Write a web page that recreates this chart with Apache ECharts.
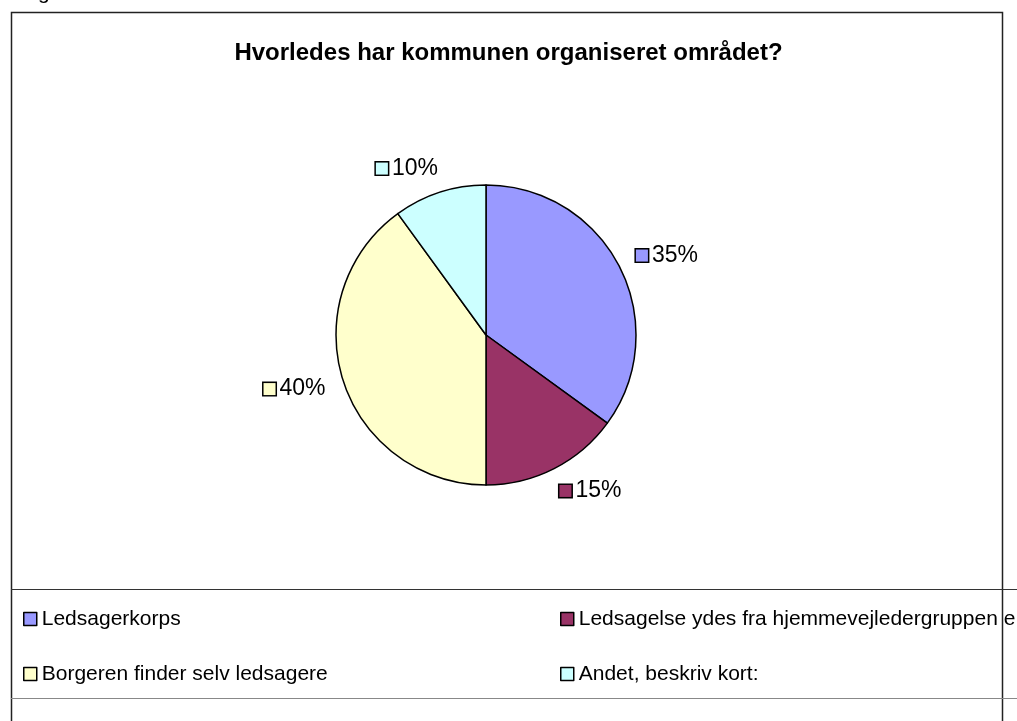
<!DOCTYPE html>
<html>
<head>
<meta charset="utf-8">
<script src="https://cdn.jsdelivr.net/npm/echarts@6/dist/echarts.min.js"></script>
<style>
    html, body { margin: 0; padding: 0; background: #fff; }
    #chart { width: 1017px; height: 721px; }
</style>
</head>
<body>
<div id="chart"></div>
<script>
    var categories = [
        'Ledsagerkorps',
        'Ledsagelse ydes fra hjemmevejledergruppen e',
        'Borgeren finder selv ledsagere',
        'Andet, beskriv kort:'
    ];
    var values = [35, 15, 40, 10];
    var colors = ['#9999FF', '#993366', '#FFFFCC', '#CCFFFF'];

    var font = '"Liberation Sans", Arial, sans-serif';

    // one rich style per slice so each label gets its own coloured square
    var rich = {
        t: { fontSize: 23, fontFamily: font, color: '#000', padding: [0, 0, 0, 4] }
    };
    colors.forEach(function (c, i) {
        rich['s' + i] = {
            width: 12,
            height: 12,
            backgroundColor: c,
            borderColor: '#000',
            borderWidth: 1.5
        };
    });

    var chart = echarts.init(document.getElementById('chart'));

    var legendBase = {
        orient: 'vertical',
        top: 607,
        padding: 0,
        itemWidth: 13,
        itemHeight: 13,
        itemGap: 31,
        icon: 'rect',
        selectedMode: false,
        itemStyle: { borderColor: '#000', borderWidth: 1.5 },
        textStyle: { fontFamily: font, fontSize: 21, color: '#000', lineHeight: 24 }
    };

    var option = {
        backgroundColor: '#fff',
        animation: false,
        title: {
            text: 'Hvorledes har kommunen organiseret området?',
            left: 'center',
            top: 36,
            textStyle: {
                fontFamily: font,
                fontSize: 24,
                fontWeight: 'bold',
                color: '#000'
            }
        },
        legend: [
            echarts.util.extend({ data: [categories[0], categories[2]], left: 23 }, legendBase),
            echarts.util.extend({ data: [categories[1], categories[3]], left: 560 }, legendBase)
        ],
        series: [
            {
                type: 'pie',
                center: [486, 335],
                radius: 150,
                startAngle: 90,
                clockwise: true,
                color: colors,
                itemStyle: { borderColor: '#000', borderWidth: 1.5 },
                emphasis: { disabled: true },
                label: {
                    show: true,
                    position: 'outside',
                    distanceToLabelLine: -6,
                    formatter: function (p) {
                        return '{s' + p.dataIndex + '|}{t|' + Math.round(p.percent) + '%}';
                    },
                    rich: rich
                },
                labelLine: { show: false, length: 25, length2: 0 },
                data: categories.map(function (name, i) {
                    return { name: name, value: values[i] };
                })
            }
        ],
        graphic: [
            {
                type: 'text',
                left: 38,
                top: -17,
                style: { text: 'g', fontFamily: font, fontSize: 21, fill: '#000' }
            },
            {
                type: 'polyline',
                z: 100,
                shape: { points: [[11.5, 721], [11.5, 12.5], [1002.5, 12.5], [1002.5, 721]] },
                style: { stroke: '#222', lineWidth: 1.5, fill: null }
            },
            {
                type: 'line',
                z: 100,
                shape: { x1: 11, y1: 589.5, x2: 1017, y2: 589.5 },
                style: { stroke: '#333', lineWidth: 1 }
            },
            {
                type: 'line',
                z: 100,
                shape: { x1: 11, y1: 698.5, x2: 1017, y2: 698.5 },
                style: { stroke: '#888', lineWidth: 1 }
            }
        ]
    };

    chart.setOption(option);
</script>
</body>
</html>
